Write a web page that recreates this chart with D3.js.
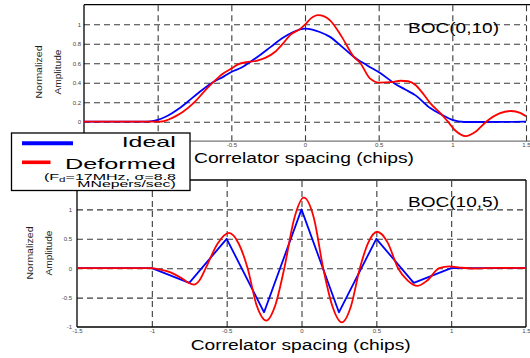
<!DOCTYPE html>
<html>
<head>
<meta charset="utf-8">
<script src="https://cdn.jsdelivr.net/npm/d3@7"></script>
<style>
  html, body { margin: 0; padding: 0; background: #fff; }
  svg { display: block; }
  text { font-family: "Liberation Sans", Arial, Helvetica, sans-serif; }
</style>
</head>
<body>
<svg id="chart" width="530" height="358"></svg>
<script>
// ---- Correlation functions: [correlator spacing (chips), normalized amplitude] ----
const boc010Ideal = [
  [-1.5, 0], [-1.1, 0], [-1.05, 0.003], [-1.0, 0.018], [-0.95, 0.048], [-0.9, 0.09],
  [-0.85, 0.14], [-0.8, 0.2], [-0.72, 0.3], [-0.63, 0.4], [-0.55, 0.465], [-0.5, 0.51],
  [-0.43, 0.555], [-0.37, 0.615], [-0.3, 0.69], [-0.23, 0.77], [-0.15, 0.86], [-0.08, 0.92],
  [0, 0.955], [0.05, 0.945], [0.1, 0.92], [0.17, 0.87], [0.25, 0.77], [0.33, 0.667],
  [0.42, 0.58], [0.51, 0.5], [0.61, 0.39], [0.68, 0.33], [0.75, 0.27], [0.85, 0.14],
  [0.93, 0.07], [1.0, 0.018], [1.08, -0.003], [1.2, -0.003], [1.5, 0]
];
const boc010Deformed = [
  [-1.5, 0], [-1.0, 0], [-0.97, 0.002], [-0.93, 0.02], [-0.88, 0.055], [-0.83, 0.1],
  [-0.75, 0.2], [-0.69, 0.3], [-0.626, 0.4], [-0.56, 0.49], [-0.5, 0.545], [-0.45, 0.59],
  [-0.4, 0.61], [-0.33, 0.625], [-0.27, 0.655], [-0.2, 0.72], [-0.15, 0.8], [-0.1, 0.89],
  [-0.03, 0.955], [0, 0.995], [0.04, 1.06], [0.088, 1.094], [0.13, 1.08], [0.17, 1.04],
  [0.25, 0.87], [0.33, 0.667], [0.376, 0.6], [0.44, 0.445], [0.51, 0.4], [0.58, 0.405],
  [0.65, 0.42], [0.7, 0.415], [0.75, 0.376], [0.8, 0.29], [0.85, 0.19], [0.93, 0.07],
  [0.97, 0], [1.02, -0.09], [1.09, -0.147], [1.16, -0.1], [1.23, 0], [1.32, 0.085],
  [1.4, 0.11], [1.46, 0.09], [1.5, 0.055]
];
const boc105Ideal = [
  [-1.5, 0], [-1.0, 0], [-0.75, -0.25], [-0.5, 0.5], [-0.25, -0.75], [0, 1],
  [0.25, -0.75], [0.5, 0.5], [0.75, -0.25], [1.0, 0], [1.5, 0]
];
const boc105Deformed = [
  [-1.5, 0], [-1.0, 0], [-0.95, -0.02], [-0.9, -0.05], [-0.85, -0.1], [-0.8, -0.17],
  [-0.76, -0.24], [-0.72, -0.28], [-0.68, -0.2], [-0.64, 0], [-0.56, 0.42], [-0.485, 0.6],
  [-0.42, 0.42], [-0.36, 0], [-0.3, -0.63], [-0.235, -0.89], [-0.175, -0.63], [-0.115, 0],
  [-0.048, 0.85], [0.015, 1.2], [0.083, 0.85], [0.145, 0], [0.207, -0.65], [0.27, -0.92],
  [0.33, -0.65], [0.39, 0], [0.447, 0.44], [0.505, 0.62], [0.575, 0.44], [0.645, 0],
  [0.71, -0.21], [0.775, -0.3], [0.84, -0.21], [0.92, 0], [0.99, 0.03], [1.06, 0.01],
  [1.15, -0.005], [1.3, 0.005], [1.5, 0]
];

// ---- Tick values ----
const xTicks = [-1.5, -1, -0.5, 0, 0.5, 1, 1.5];
const xGrid = [-1, -0.5, 0, 0.5, 1, 1.5];
const yTicksTop = [0, 0.2, 0.4, 0.6, 0.8, 1];
const yTicksBottom = [-1, -0.5, 0, 0.5, 1];
const yGridBottom = [-0.5, 0, 0.5, 1];

const legendLabels = ["Ideal", "Deformed"];
const BLUE = "#0000ff", RED = "#ff0000";

const svg = d3.select("#chart");
svg.append("rect").attr("width", 530).attr("height", 358).attr("fill", "#fff");

function panel(cfg) {
  const x = d3.scaleLinear().domain([-1.5, 1.5]).range([cfg.left, cfg.right]);
  const y = d3.scaleLinear().domain(cfg.yDomain).range([cfg.bottom, cfg.top]);
  const g = svg.append("g");
  const w = cfg.right - cfg.left, h = cfg.bottom - cfg.top;

  // dashed grid
  const gx = g.append("g").attr("transform", `translate(0,${cfg.bottom})`)
    .call(d3.axisBottom(x).tickValues(cfg.xGrid).tickSizeInner(-h).tickSizeOuter(0).tickFormat(""));
  const gy = g.append("g").attr("transform", `translate(${cfg.left},0)`)
    .call(d3.axisLeft(y).tickValues(cfg.yGrid).tickSizeInner(-w).tickSizeOuter(0).tickFormat(""));
  [gx, gy].forEach(a => {
    a.select(".domain").remove();
    a.selectAll(".tick line").attr("stroke", "#3a3a3a").attr("stroke-width", 1.1)
      .attr("stroke-dasharray", "6,4");
  });

  // tick labels
  const fmt = d => String(d);
  const ax = g.append("g").attr("transform", `translate(0,${cfg.bottom})`)
    .call(d3.axisBottom(x).tickValues(xTicks).tickSize(0).tickPadding(cfg.xPad).tickFormat(fmt));
  const ay = g.append("g").attr("transform", `translate(${cfg.left},0)`)
    .call(d3.axisLeft(y).tickValues(cfg.yTicks).tickSize(0).tickPadding(cfg.yPad).tickFormat(fmt));
  [ax, ay].forEach(a => {
    a.select(".domain").remove();
    a.selectAll("text").attr("font-size", 6).attr("fill", "#444")
      .attr("font-family", "'Liberation Sans', Arial, sans-serif");
  });

  // frame
  cfg.frame.forEach(([x1, y1, x2, y2, c]) => {
    g.append("line").attr("x1", x1).attr("y1", y1).attr("x2", x2).attr("y2", y2)
      .attr("stroke", c || "#000").attr("stroke-width", 1.3);
  });

  // curves
  const lineSmooth = d3.line().x(d => x(d[0])).y(d => y(d[1])).curve(d3.curveMonotoneX);
  const lineStraight = d3.line().x(d => x(d[0])).y(d => y(d[1]));
  g.append("path").datum(cfg.ideal).attr("fill", "none").attr("stroke", BLUE)
    .attr("stroke-width", 1.8).attr("stroke-linejoin", "round")
    .attr("d", cfg.idealStraight ? lineStraight : lineSmooth);
  g.append("path").datum(cfg.deformed).attr("fill", "none").attr("stroke", RED)
    .attr("stroke-width", 1.8).attr("d", lineSmooth);

  // panel title
  g.append("text").attr("x", 408).attr("y", cfg.titleY).attr("font-size", 14)
    .attr("textLength", 91).attr("lengthAdjust", "spacingAndGlyphs").text(cfg.title);

  // y axis label (two lines, rotated)
  [["Normalized", cfg.yl1x, 53], ["Amplitude", cfg.yl2x, 45]].forEach(([t, px, len]) => {
    g.append("text").attr("transform", `translate(${px},${cfg.ylY}) rotate(-90)`)
      .attr("text-anchor", "middle").attr("font-size", 9).attr("fill", "#222")
      .attr("textLength", len).attr("lengthAdjust", "spacingAndGlyphs").text(t);
  });

  // x axis title
  g.append("text").attr("x", cfg.xtX).attr("y", cfg.xtY).attr("font-size", 14)
    .attr("textLength", 220).attr("lengthAdjust", "spacingAndGlyphs")
    .text("Correlator spacing (chips)");
  return { x, y };
}

// Upper panel: BOC(0,10)
panel({
  left: 84, right: 526, top: 4.7, bottom: 141.2, yDomain: [-0.2, 1.2],
  xGrid: xGrid, yGrid: yTicksTop, yTicks: yTicksTop, xPad: 1.5, yPad: 3,
  frame: [[84, 4.7, 530, 4.7], [84, 4.7, 84, 141.2], [84, 141.2, 530, 141.2, "#777"]],
  ideal: boc010Ideal, deformed: boc010Deformed, idealStraight: false,
  title: "BOC(0,10)", titleY: 32.7,
  yl1x: 42, yl2x: 61, ylY: 72,
  xtX: 194, xtY: 163
});

// Lower panel: BOC(10,5)
panel({
  left: 77, right: 526, top: 180, bottom: 327, yDomain: [-1, 1.5],
  xGrid: [-1, -0.5, 0, 0.5, 1], yGrid: yGridBottom, yTicks: yTicksBottom, xPad: 1.5, yPad: 5,
  frame: [[77, 180, 526, 180], [77, 180, 77, 327], [77, 327, 526, 327], [526, 180, 526, 327]],
  ideal: boc105Ideal, deformed: boc105Deformed, idealStraight: true,
  title: "BOC(10,5)", titleY: 206.7,
  yl1x: 33, yl2x: 52, ylY: 253,
  xtX: 190.7, xtY: 350
});

// Legend
const lg = svg.append("g");
lg.append("rect").attr("x", 11.5).attr("y", 133).attr("width", 178.5).attr("height", 57.5)
  .attr("fill", "#fff").attr("stroke", "#000").attr("stroke-width", 1.3);
lg.append("line").attr("x1", 22).attr("x2", 73).attr("y1", 143.3).attr("y2", 143.3)
  .attr("stroke", BLUE).attr("stroke-width", 4);
lg.append("line").attr("x1", 22).attr("x2", 50.5).attr("y1", 162.3).attr("y2", 162.3)
  .attr("stroke", RED).attr("stroke-width", 3.6);
lg.append("text").attr("x", 121.7).attr("y", 146.7).attr("font-size", 15)
  .attr("textLength", 54).attr("lengthAdjust", "spacingAndGlyphs").text(legendLabels[0]);
lg.append("text").attr("x", 65).attr("y", 168.5).attr("font-size", 14)
  .attr("textLength", 110.7).attr("lengthAdjust", "spacingAndGlyphs").text(legendLabels[1]);
const note = lg.append("text").attr("x", 44).attr("y", 179.5).attr("font-size", 9)
  .attr("textLength", 132).attr("lengthAdjust", "spacingAndGlyphs");
note.append("tspan").text("(F");
note.append("tspan").attr("dy", 2).attr("font-size", 6.5).text("d");
note.append("tspan").attr("dy", -2).text("=17MHz, σ=8.8");
lg.append("text").attr("x", 77.3).attr("y", 187).attr("font-size", 9)
  .attr("textLength", 98.4).attr("lengthAdjust", "spacingAndGlyphs").text("MNepers/sec)");
</script>
</body>
</html>
